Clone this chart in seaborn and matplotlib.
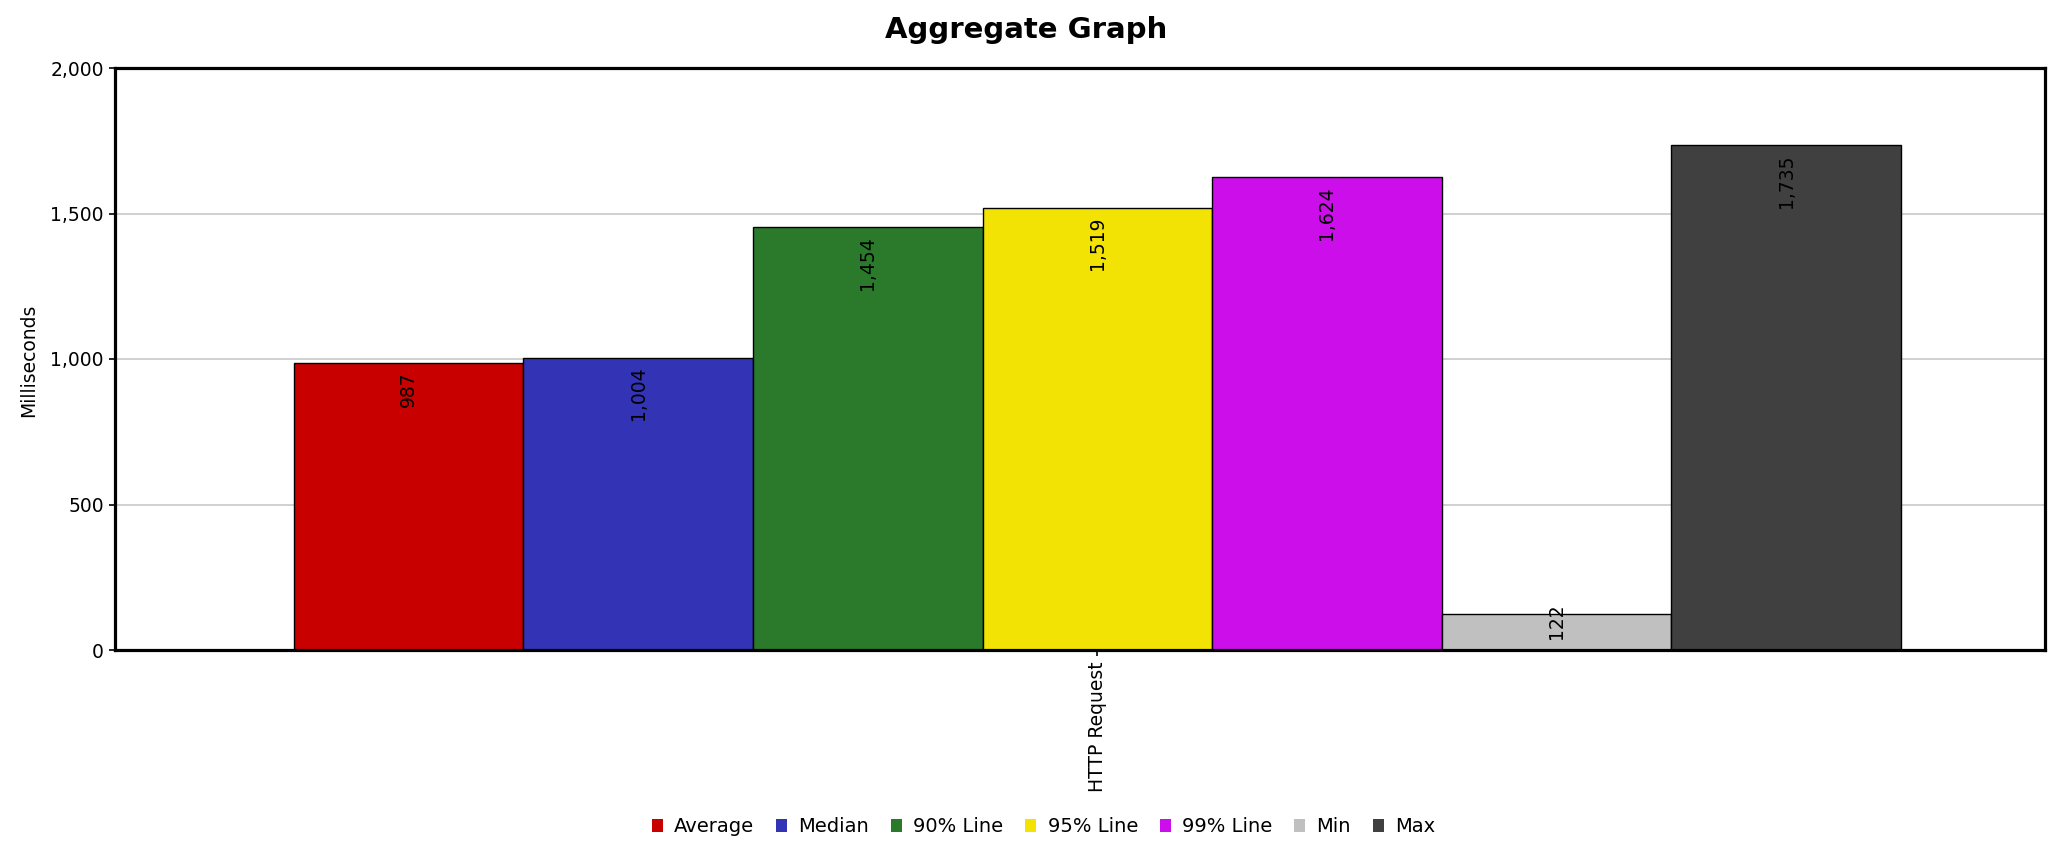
import matplotlib
matplotlib.use('Agg')
import matplotlib.pyplot as plt
import seaborn as sns
import pandas as pd
from matplotlib.patches import Patch
from matplotlib.ticker import FuncFormatter

# ---- data ----
categories = ['HTTP Request']
series = ['Average', 'Median', '90% Line', '95% Line', '99% Line', 'Min', 'Max']
values = [987, 1004, 1454, 1519, 1624, 122, 1735]
colors = ['#C80000', '#3333B5', '#2B7A2B', '#F2E305', '#CC0FEA', '#C0C0C0', '#404040']
y_ticks = [0, 500, 1000, 1500, 2000]
title = 'Aggregate Graph'
y_label = 'Milliseconds'

df = pd.DataFrame({'label': categories * len(series), 'series': series, 'value': values})

sns.set_style('white')
plt.rcParams['font.family'] = ['DejaVu Sans']
for k in ['text.color', 'axes.labelcolor', 'xtick.color', 'ytick.color']:
    plt.rcParams[k] = 'black'

W, H = 2052, 860
fig = plt.figure(figsize=(W / 100, H / 100), dpi=100)
ax_left, ax_right, ax_top, ax_bottom = 115, 2045, 68, 650
ax = fig.add_axes([ax_left / W, 1 - ax_bottom / H, (ax_right - ax_left) / W, (ax_bottom - ax_top) / H])

sns.barplot(data=df, x='label', y='value', hue='series', hue_order=series,
            palette=colors, saturation=1, width=0.849, edgecolor='black',
            linewidth=1.0, legend=False, errorbar=None, ax=ax)

ax.set_xlim(-0.519, 0.5006)
ax.set_ylim(0, 2000)

px_per_unit = (ax_bottom - ax_top) / 2000
for cont, v in zip(ax.containers, values):
    for bar in cont:
        xc = bar.get_x() + bar.get_width() / 2
        if bar.get_height() * px_per_unit < 75:
            ax.annotate(f'{v:,}', (xc, 0), xytext=(0, 8), textcoords='offset points',
                        rotation=90, ha='center', va='bottom', fontsize=13.5, color='black')
        else:
            ax.annotate(f'{v:,}', (xc, bar.get_height()), xytext=(0, -6.5),
                        textcoords='offset points', rotation=90,
                        ha='center', va='top', fontsize=13.5, color='black')

ax.set_yticks(y_ticks)
ax.yaxis.set_major_formatter(FuncFormatter(lambda v, p: f'{int(v):,}'))
ax.yaxis.grid(True, color='#C8C8C8', linewidth=1.2)
ax.xaxis.grid(False)
ax.set_axisbelow(True)
ax.set_xlabel('')
ax.set_ylabel('')
ax.tick_params(axis='both', which='major', bottom=True, left=True, direction='out',
               length=4, width=1.2, color='black', labelsize=13.5, pad=4,
               labelcolor='black')
ax.tick_params(axis='x', labelrotation=90)

for s in ax.spines.values():
    s.set_visible(True)
    s.set_color('black')
    s.set_linewidth(2.3)

fig.text(0.5, 1 - 30 / H, title, ha='center', va='center', fontsize=21,
         fontweight='bold', color='black')
fig.text(29 / W, 1 - 360 / H, y_label, ha='center', va='center', rotation=90,
         fontsize=13.5, color='black')

handles = [Patch(facecolor=c, edgecolor='none', label=s) for s, c in zip(series, colors)]
fig.legend(handles=handles, loc='center', bbox_to_anchor=(0.5086, 1 - 827 / H), ncol=7,
           frameon=False, fontsize=14, handlelength=0.55, handleheight=0.6,
           handletextpad=0.6, columnspacing=1.12, borderaxespad=0, labelcolor='black')

fig.savefig('out.png', dpi=100)
